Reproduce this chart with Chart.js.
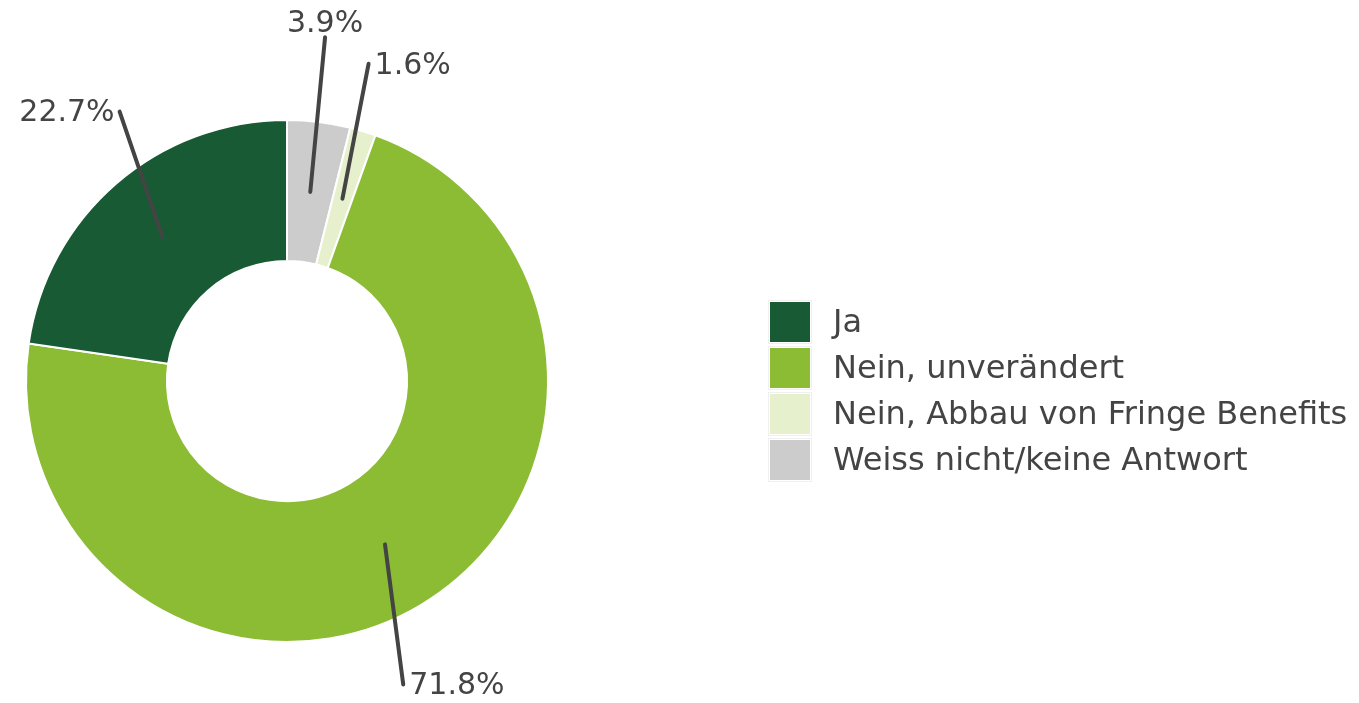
<!DOCTYPE html>
<html lang="de">
<head>
<meta charset="UTF-8">
<title>Fringe Benefits</title>
<script src="https://cdn.jsdelivr.net/npm/chart.js"></script>
<style>
  body { margin: 0; background: #fff; }
</style>
</head>
<body>
<canvas id="donut" width="1359" height="703"></canvas>
<script>
// answers, in legend order
const categories = ['Ja', 'Nein, unverändert', 'Nein, Abbau von Fringe Benefits', 'Weiss nicht/keine Antwort'];
const shares = [22.7, 71.8, 1.6, 3.9];
const percentLabels = ['22.7%', '71.8%', '1.6%', '3.9%'];
const colors = ['#175a34', '#8cbb34', '#e7f0cd', '#cccccc'];

// leader line end: turn from slice middle (deg, clockwise), distance as multiple of outer radius
const leaderPlacement = [
  { turn: 9, reach: 1.215, align: 'right' },
  { turn: 10, reach: 1.245, align: 'left' },
  { turn: -2.5, reach: 1.255, align: 'left' },
  { turn: -0.7, reach: 1.325, align: 'top' }
];

// the original runs counter-clockwise from 12 o'clock, Chart.js runs clockwise -> feed it reversed
const order = categories.map((_, i) => categories.length - 1 - i);
const pick = arr => order.map(i => arr[i]);

const leaderLabels = {
  id: 'leaderLabels',
  afterDatasetsDraw(chart) {
    const ctx = chart.ctx;
    const arcs = chart.getDatasetMeta(0).data;
    ctx.save();
    ctx.font = '30px "DejaVu Sans"';
    ctx.fillStyle = '#444';
    ctx.strokeStyle = '#444';
    ctx.lineWidth = 4;
    ctx.lineCap = 'round';
    arcs.forEach((arc, j) => {
      const i = order[j];
      const p = leaderPlacement[i];
      const { x, y, startAngle, endAngle, innerRadius, outerRadius } =
        arc.getProps(['x', 'y', 'startAngle', 'endAngle', 'innerRadius', 'outerRadius'], true);
      const mid = (startAngle + endAngle) / 2;
      const r0 = (innerRadius + outerRadius) / 2;
      const a1 = mid + p.turn * Math.PI / 180;
      const r1 = outerRadius * p.reach;
      const x0 = x + r0 * Math.cos(mid), y0 = y + r0 * Math.sin(mid);
      const x1 = x + r1 * Math.cos(a1), y1 = y + r1 * Math.sin(a1);
      ctx.beginPath();
      ctx.moveTo(x0, y0);
      ctx.lineTo(x1, y1);
      ctx.stroke();

      const text = percentLabels[i];
      if (p.align === 'top') {
        ctx.textAlign = 'center';
        ctx.textBaseline = 'alphabetic';
        ctx.fillText(text, x1, y1 - 5);
      } else if (p.align === 'right') {
        ctx.textAlign = 'right';
        ctx.textBaseline = 'middle';
        ctx.fillText(text, x1 - 5, y1 + 2);
      } else {
        ctx.textAlign = 'left';
        ctx.textBaseline = 'middle';
        ctx.fillText(text, x1 + 6, y1 + 2);
      }
    });
    ctx.restore();
  }
};

const sideLegend = {
  id: 'sideLegend',
  afterDraw(chart, args, opts) {
    const ctx = chart.ctx;
    ctx.save();
    ctx.font = opts.font;
    ctx.textAlign = 'left';
    ctx.textBaseline = 'middle';
    categories.forEach((label, i) => {
      const top = opts.top + i * opts.step;
      ctx.strokeStyle = '#f0f0f0';
      ctx.lineWidth = 1;
      ctx.strokeRect(opts.left - 1.5, top - 1.5, opts.box + 3, opts.box + 3);
      ctx.fillStyle = colors[i];
      ctx.fillRect(opts.left, top, opts.box, opts.box);
      ctx.fillStyle = '#444';
      ctx.fillText(label, opts.left + opts.box + opts.gap, top + opts.box / 2 + 2);
    });
    ctx.restore();
  }
};

new Chart(document.getElementById('donut'), {
  type: 'doughnut',
  data: {
    labels: pick(categories),
    datasets: [{
      data: pick(shares),
      backgroundColor: pick(colors),
      borderColor: '#ffffff',
      borderWidth: 2,
      hoverOffset: 0
    }]
  },
  options: {
    responsive: false,
    animation: false,
    cutout: '46%',
    layout: {
      padding: { left: 25, right: 810, top: 119, bottom: 60 }
    },
    plugins: {
      legend: { display: false },
      tooltip: { enabled: false },
      sideLegend: { left: 770, top: 302, box: 40, step: 46, gap: 23, font: '32px "DejaVu Sans"' }
    }
  },
  plugins: [leaderLabels, sideLegend]
});
</script>
</body>
</html>
